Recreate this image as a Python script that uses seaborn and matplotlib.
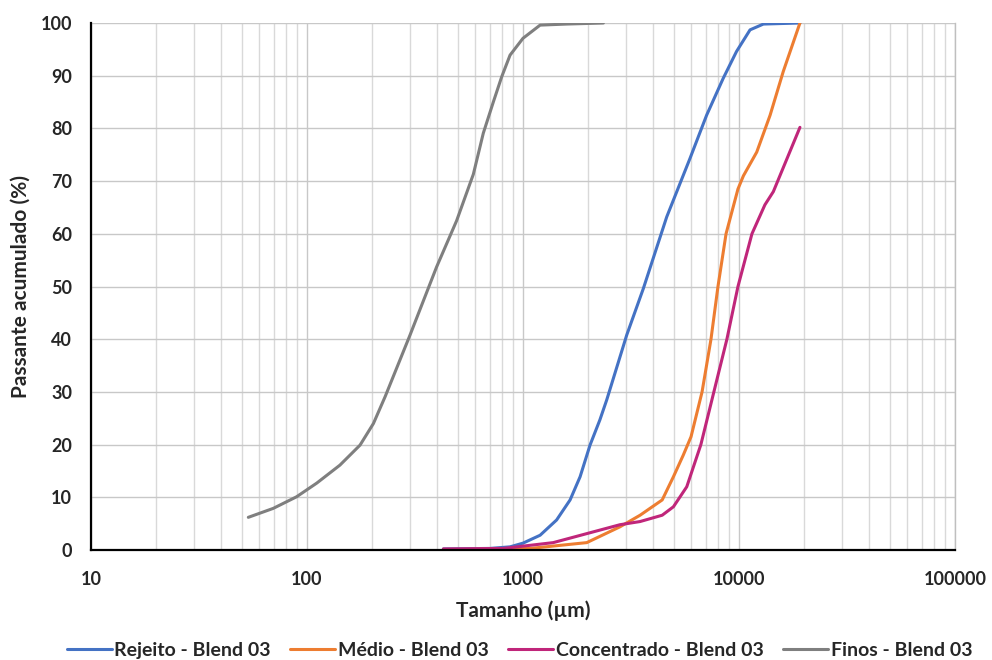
import pandas as pd
import numpy as np
import matplotlib
matplotlib.use('Agg')
import matplotlib.pyplot as plt
import seaborn as sns
from matplotlib.ticker import LogLocator, FixedLocator, NullFormatter

# particle size (um) / cumulative passing (%)
rejeito_size = [428, 703, 871, 1000, 1200, 1431, 1652, 1838, 2043, 2270, 2442,
                3022, 3606, 4627, 5930, 7080, 8450, 9740, 11250, 12970, 19150]
rejeito_pass = [0.2, 0.3, 0.6, 1.3, 2.8, 5.7, 9.5, 13.9, 19.9, 24.7, 28.5,
                40.8, 49.6, 63.2, 74.3, 82.5, 89.5, 94.6, 98.7, 99.8, 100]

medio_size = [428, 1080, 1973, 2812, 3484, 4410, 4970, 5520, 5998, 6745, 7418,
              7992, 8710, 9890, 10480, 12080, 13930, 16030, 19150]
medio_pass = [0, 0.3, 1.4, 4.4, 6.6, 9.5, 13.9, 18.0, 21.5, 30.0, 40.0,
              50.0, 60.0, 68.5, 71.0, 75.5, 82.5, 90.8, 100]

conc_size = [428, 811, 1380, 2812, 3484, 4410, 4970, 5730, 6660, 7650, 8790,
             9890, 11480, 13180, 14420, 19150]
conc_pass = [0.2, 0.3, 1.4, 4.8, 5.4, 6.6, 8.2, 12.0, 20.0, 30.0, 40.0,
             50.0, 60.0, 65.5, 68.0, 80.2]

finos_size = [53.5, 69.8, 89.5, 111, 142, 176, 203, 230, 300, 398, 493, 589,
              655, 730, 797, 871, 1000, 1200, 1592, 2356]
finos_pass = [6.2, 7.9, 10.1, 12.7, 16.1, 19.9, 24.0, 29.1, 40.8, 53.7, 62.5,
              71.3, 79.1, 85.1, 89.8, 93.9, 97.1, 99.6, 99.8, 100]

series = ['Rejeito - Blend 03', 'Médio - Blend 03',
          'Concentrado - Blend 03', 'Finos - Blend 03']
colors = ['#4472C4', '#ED7D31', '#C0267A', '#7F7F7F']

frames = []
for name, xs, ys in zip(series,
                        [rejeito_size, medio_size, conc_size, finos_size],
                        [rejeito_pass, medio_pass, conc_pass, finos_pass]):
    frames.append(pd.DataFrame({'size': xs, 'passing': ys, 'serie': name}))
df = pd.concat(frames, ignore_index=True)

sns.set_theme(style='white')
plt.rcParams['font.family'] = ['Lato', 'DejaVu Sans']
plt.rcParams['font.weight'] = 'bold'

fig = plt.figure(figsize=(9.92, 6.6), dpi=100)
ax = fig.add_axes([91 / 992, 110 / 660, (955 - 91) / 992, (550 - 23) / 660])

sns.lineplot(data=df, x='size', y='passing', hue='serie', hue_order=series,
             palette=colors, sort=False, estimator=None, linewidth=2.2, ax=ax)
for ln in ax.lines:
    ln.set_solid_joinstyle('round')
    ln.set_solid_capstyle('round')

ax.set_xscale('log')
ax.set_xlim(10, 100000)
ax.set_ylim(0, 100)
ax.set_yticks(range(0, 101, 10))
ax.xaxis.set_major_locator(FixedLocator([10, 100, 1000, 10000, 100000]))
ax.xaxis.set_minor_locator(LogLocator(base=10, subs=np.arange(2, 10)))
ax.xaxis.set_minor_formatter(NullFormatter())
ax.set_xticklabels(['10', '100', '1000', '10000', '100000'])

ax.grid(True, which='major', axis='both', color='#C8C8C8', linewidth=1)
ax.grid(True, which='minor', axis='x', color='#D9D9D9', linewidth=1)
ax.set_axisbelow(True)

ax.spines['top'].set_visible(False)
ax.spines['right'].set_color('#BFBFBF')
ax.spines['right'].set_linewidth(1)
ax.spines['left'].set_color('black')
ax.spines['left'].set_linewidth(1.6)
ax.spines['bottom'].set_color('black')
ax.spines['bottom'].set_linewidth(1.6)

ax.tick_params(axis='both', which='both', length=0, labelsize=13)
ax.tick_params(axis='x', pad=15)
ax.tick_params(axis='y', pad=13.5)
for lbl in ax.get_xticklabels() + ax.get_yticklabels():
    lbl.set_fontweight('bold')

ax.set_xlabel('Tamanho (µm)', fontsize=15, fontweight='bold', labelpad=9)
ax.set_ylabel('Passante acumulado (%)', fontsize=15, fontweight='bold', labelpad=7)

handles, labels = ax.get_legend_handles_labels()
ax.legend(handles, labels, loc='center', bbox_to_anchor=(0.496, -0.19),
          ncol=4, frameon=False, handlelength=2.3,
          handletextpad=0.15, columnspacing=1.0,
          prop={'weight': 'bold', 'size': 14})

fig.savefig('out.png', dpi=100)
